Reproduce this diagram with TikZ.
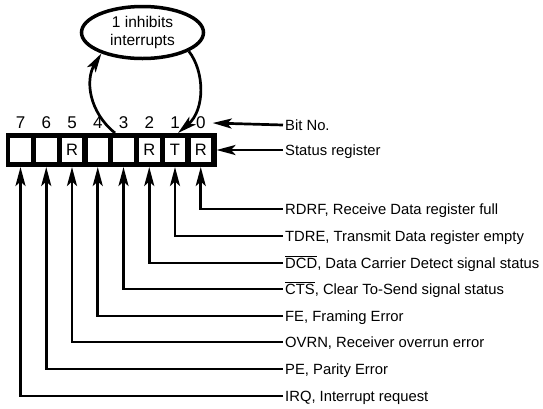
\documentclass[tikz,border=0pt]{standalone}
\usepackage{fontspec}
\setmainfont{Liberation Sans}
\usetikzlibrary{arrows.meta,calc,shapes.geometric}
\begin{document}
\begin{tikzpicture}[x=1pt,y=-1pt,
  arr/.style={line width=2.7pt,-{Stealth[length=19pt,width=10pt,inset=4.5pt]}},
  regbox/.style={draw=black,fill=black,line width=1pt,minimum width=210pt,minimum height=33pt,inner sep=0pt},
  cell/.style={draw=black,fill=white,line width=0.8pt,minimum width=21.5pt,minimum height=25pt,inner sep=0pt,font=\fontsize{16.5}{18}\selectfont},
  bitlbl/.style={inner sep=2pt,font=\fontsize{17}{19}\selectfont},
  lbl/.style={anchor=west,inner xsep=2pt,inner ysep=0pt,text height=10.6pt,text depth=0pt,font=\fontsize{14.8}{17}\selectfont},
  bubble/.style={ellipse,draw=black,line width=3.5pt,minimum width=122pt,minimum height=52pt,inner sep=0pt,align=center,font=\fontsize{15.5}{18}\selectfont}]
\fill[white] (0,0) rectangle (543,408);
\useasboundingbox (0,0) rectangle (543,408);
% register
\node[regbox] (reg) at (111,150) {};
\foreach \i/\t in {0/R,1/T,2/R,3/,4/,5/R,6/,7/}{
  \pgfmathsetmacro\xx{20.5+25.75*(7-\i)}
  \node[cell] (c\i) at (\xx,150) {\t};
  \node[bitlbl] (b\i) at (\xx,123) {\i};
}
% ellipse
\node[bubble] (ell) at (142.5,32.5) {1 inhibits\\interrupts};
% loop arrows
\draw[arr] ($(reg.north)+(4,0)$) .. controls (89,112) and (85,80) .. (ell.207);
\draw[arr] (ell.-22) .. controls (205,72) and (205,110) .. ($(reg.north)+(67,0)$);
% right labels
\node[lbl] (bitno) at (283,125) {Bit No.};
\node[lbl] (streg) at (283,150) {Status register};
\draw[arr] (bitno.west) -- ($(b0.east)+(5,0)$);
\draw[arr] (streg.west) -- (reg.east);
% bottom labels
\node[lbl] (l0) at (283,209) {RDRF, Receive Data register full};
\node[lbl] (l1) at (283,236) {TDRE, Transmit Data register empty};
\node[lbl] (l2) at (283,263) {$\overline{\mbox{DCD}}$, Data Carrier Detect signal status};
\node[lbl] (l3) at (283,289) {$\overline{\mbox{CTS}}$, Clear To-Send signal status};
\node[lbl] (l4) at (283,316) {FE, Framing Error};
\node[lbl] (l5) at (283,342) {OVRN, Receiver overrun error};
\node[lbl] (l6) at (283,369) {PE, Parity Error};
\node[lbl] (l7) at (283,396) {IRQ, Interrupt request};
\foreach \i in {0,...,7}{
  \draw[arr] (l\i.west) -| (c\i |- reg.south);
}
\end{tikzpicture}
\end{document}
